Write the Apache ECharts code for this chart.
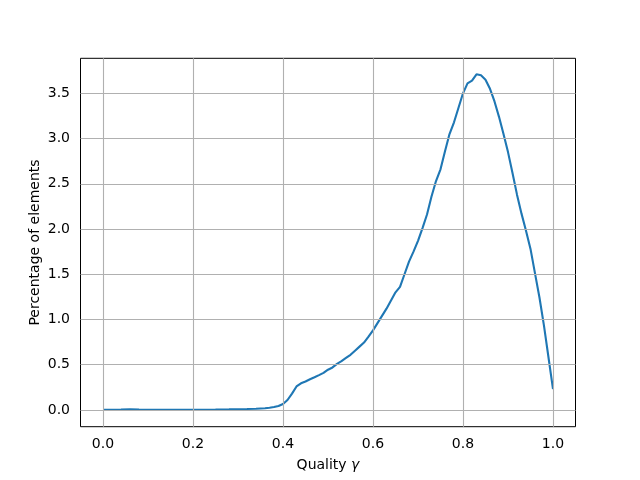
<!DOCTYPE html>
<html>
<head>
<meta charset="utf-8">
<script src="https://cdn.jsdelivr.net/npm/echarts@6/dist/echarts.min.js"></script>
<style>
html,body{margin:0;padding:0;background:#fff;}
#c{width:640px;height:480px;}
</style>
</head>
<body>
<div id="c"></div>
<script>
const quality = [0.00,0.02,0.04,0.06,0.08,0.10,0.15,0.20,0.25,0.28,0.30,0.32,0.34,0.36,0.37,0.38,0.39,0.40,0.41,0.42,0.43,0.44,0.45,0.46,0.47,0.48,0.49,0.50,0.51,0.52,0.53,0.54,0.55,0.56,0.57,0.58,0.59,0.60,0.61,0.62,0.63,0.64,0.65,0.66,0.67,0.68,0.69,0.70,0.71,0.72,0.73,0.74,0.75,0.76,0.77,0.78,0.79,0.80,0.81,0.82,0.83,0.84,0.85,0.86,0.87,0.88,0.89,0.90,0.91,0.92,0.93,0.94,0.95,0.96,0.97,0.98,0.99,1.00];
const percentage = [0.003,0.003,0.004,0.008,0.004,0.003,0.003,0.003,0.004,0.006,0.008,0.010,0.013,0.019,0.025,0.032,0.044,0.066,0.11,0.18,0.26,0.295,0.315,0.34,0.362,0.385,0.41,0.445,0.47,0.51,0.54,0.575,0.61,0.655,0.70,0.745,0.81,0.88,0.96,1.04,1.12,1.21,1.30,1.36,1.50,1.64,1.75,1.87,2.01,2.16,2.36,2.53,2.66,2.86,3.05,3.18,3.34,3.50,3.61,3.64,3.71,3.70,3.65,3.55,3.41,3.24,3.05,2.85,2.62,2.38,2.17,1.98,1.78,1.51,1.24,0.93,0.58,0.23];
const xTicks = [0.0,0.2,0.4,0.6,0.8,1.0];
const yTicks = [0.0,0.5,1.0,1.5,2.0,2.5,3.0,3.5];
const xTitle = 'Quality ';
const xTitleGreek = 'γ';
const yTitle = 'Percentage of elements';

const FONT = 'DejaVu Sans';
const chart = echarts.init(document.getElementById('c'), null, {renderer: 'canvas'});
const gridLines = [];
xTicks.forEach(v => gridLines.push({xAxis: v}));
yTicks.forEach(v => gridLines.push({yAxis: v}));

chart.setOption({
  animation: false,
  backgroundColor: '#ffffff',
  grid: {left: 80.5, right: 64.5, top: 58.3, bottom: 53.3, show: true, borderColor: '#000', borderWidth: 1, backgroundColor: 'transparent'},
  xAxis: {
    type: 'value', min: -0.05, max: 1.05,
    axisLine: {show: false},
    splitLine: {show: false},
    axisTick: {show: true, length: 5, customValues: xTicks, lineStyle: {color: '#000', width: 1}},
    axisLabel: {customValues: xTicks, margin: 11, color: '#000', fontSize: 14, fontFamily: FONT, formatter: v => v.toFixed(1)},
    name: xTitle + '{g|' + xTitleGreek + '}',
    nameLocation: 'middle', nameGap: 32, nameMoveOverlap: false,
    nameTextStyle: {color: '#000', fontSize: 14, fontFamily: FONT, rich: {g: {fontStyle: 'italic', fontSize: 14, fontFamily: FONT, color: '#000'}}}
  },
  yAxis: {
    type: 'value', min: -0.185, max: 3.887,
    axisLine: {show: false},
    splitLine: {show: false},
    axisTick: {show: true, length: 5, customValues: yTicks, lineStyle: {color: '#000', width: 1}},
    axisLabel: {customValues: yTicks, margin: 10.5, color: '#000', fontSize: 14, fontFamily: FONT, formatter: v => v.toFixed(1)},
    name: yTitle, nameLocation: 'middle', nameGap: 38.5, nameRotate: 90, nameMoveOverlap: false,
    nameTextStyle: {color: '#000', fontSize: 14, fontFamily: FONT}
  },
  series: [
    {
      type: 'line', data: [], z: 1, silent: true,
      markLine: {silent: true, symbol: ['none','none'], label: {show: false}, animation: false,
        lineStyle: {type: 'solid', color: '#b0b0b0', width: 1.1}, emphasis: {disabled: true}, data: gridLines}
    },
    {
      type: 'line', z: 2,
      data: quality.map((q, i) => [q, percentage[i]]),
      showSymbol: false, smooth: false,
      lineStyle: {color: '#1f77b4', width: 2.1}
    }
  ]
});
</script>
</body>
</html>
